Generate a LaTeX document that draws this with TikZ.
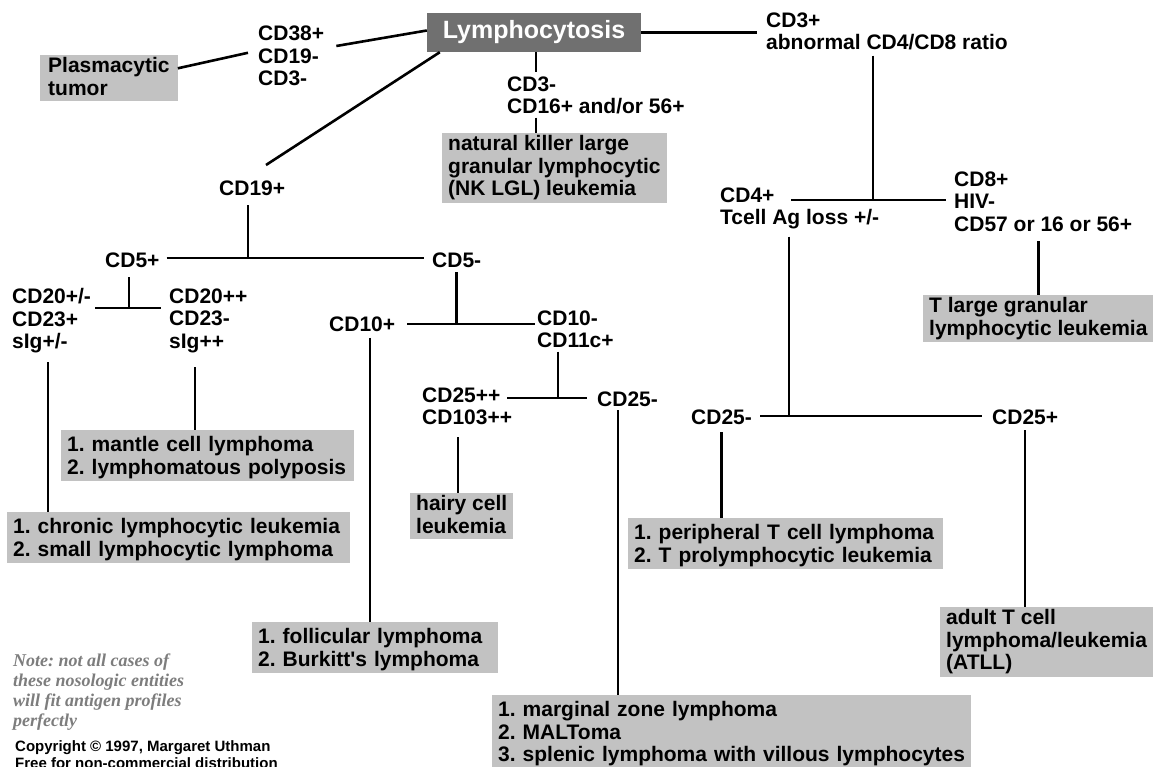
\documentclass[tikz,border=0pt]{standalone}
\usepackage{fontspec}
\setmainfont{Liberation Sans}[Ligatures=TeXOff]
\newfontfamily\notefont{Liberation Serif}
\definecolor{dxgray}{RGB}{194,194,194}
\definecolor{rootgray}{RGB}{112,112,112}
\definecolor{notegray}{RGB}{125,125,125}
\newcommand\topstrut{\rule{0pt}{19pt}}
\newcommand\botstrut{\rule[-3.5pt]{0pt}{3.5pt}}
\frenchspacing

\begin{document}
\begin{tikzpicture}[
  x=1pt,y=-1pt,
  lab/.style={anchor=north west,inner sep=0pt,align=left,font=\fontsize{21}{22.5}\selectfont\bfseries,
    execute at begin node=\topstrut,execute at end node=\botstrut},
  dx/.style={lab,fill=dxgray,inner xsep=6pt,inner ysep=2.5pt},
  root/.style={fill=rootgray,text=white,font=\fontsize{25}{28}\selectfont\bfseries,
    minimum width=214pt,minimum height=39pt,inner sep=0pt},
  ln/.style={line width=2.6pt}
]
\fill[white] (0,0) rectangle (1154,767);
\useasboundingbox (0,0) rectangle (1154,767);

% top level
\node[root] (lympho) at (534,32.5) {Lymphocytosis};
\node[lab] (cd38) at (258,26) {CD38+\\CD19-\\CD3-};
\node[dx,inner xsep=8pt] (plasma) at (40,55) {Plasmacytic\\tumor};
\node[lab] (cd3m) at (507,76.5) {CD3-\\CD16+ and/or 56+};
\node[dx] (nk) at (442,133) {natural killer large\\granular lymphocytic\\(NK LGL) leukemia};
\node[lab] (cd3p) at (766,12.5) {CD3+\\abnormal CD4/CD8 ratio};
\node[lab] (cd19p) at (219,176.5) {CD19+};

% T cell side
\node[lab] (cd4) at (720,187.5) {CD4+\\Tcell Ag loss +/-};
\node[lab] (cd8) at (954,171.5) {CD8+\\HIV-\\CD57 or 16 or 56+};
\node[dx] (tlgl) at (923,295) {T large granular\\lymphocytic leukemia};
\node[lab] (cd25mR) at (691,405.5) {CD25-};
\node[lab] (cd25pR) at (992,405.5) {CD25+};
\node[dx,text width=303pt] (ptcl) at (628,518) {1. peripheral T cell lymphoma\\2. T prolymphocytic leukemia};
\node[dx] (atll) at (940,607) {adult T cell\\lymphoma/leukemia\\(ATLL)};

% B cell side
\node[lab] (cd5p) at (105,248.5) {CD5+};
\node[lab] (cd5m) at (432,248.5) {CD5-};
\node[lab] (cd20a) at (12,288.5) {CD20+/-\\CD23+\\sIg+/-};
\node[lab] (cd20b) at (169,288.5) {CD20++\\CD23-\\sIg++};
\node[dx,text width=281pt] (mcl) at (61,430) {1. mantle cell lymphoma\\2. lymphomatous polyposis};
\node[dx,text width=331pt] (cll) at (7,512) {1. chronic lymphocytic leukemia\\2. small lymphocytic lymphoma};
\node[lab] (cd10p) at (329,312.5) {CD10+};
\node[lab] (cd10m) at (537,310.5) {CD10-\\CD11c+};
\node[dx,text width=234pt] (fl) at (252,622) {1. follicular lymphoma\\2. Burkitt's lymphoma};
\node[lab] (cd25pp) at (422,387.5) {CD25++\\CD103++};
\node[lab] (cd25mL) at (597,387.5) {CD25-};
\node[dx] (hcl) at (410,493) {hairy cell\\leukemia};
\node[dx,text width=467pt] (mzl) at (492,695) {1. marginal zone lymphoma\\2. MALToma\\3. splenic lymphoma with villous lymphocytes};

\node[anchor=north west,inner sep=0pt,align=left,text=notegray,
  font=\notefont\fontsize{18}{20}\selectfont\bfseries\itshape,execute at begin node=\strut]
  (note) at (13,654) {Note: not all cases of\\these nosologic entities\\will fit antigen profiles\\perfectly};
\node[anchor=north west,inner sep=0pt,align=left,font=\fontsize{15}{17}\selectfont\bfseries,
  execute at begin node=\strut]
  (copy) at (15,740) {Copyright \textcopyright{} 1997, Margaret Uthman\\Free for non-commercial distribution};

% forks
\coordinate (s3) at (536,72);
\coordinate (jT) at (873,200);
\coordinate (bT) at (791,200);
\coordinate (j4) at (789,416);
\coordinate (jB) at (248,258);
\coordinate (j5) at (129,308);
\coordinate (j5m) at (456,324);
\coordinate (j11) at (558,398);
\coordinate (b11) at (507,398);
\coordinate (s20a) at (48,362);
\coordinate (s20b) at (195,367);
\coordinate (s10) at (370,338);
\coordinate (s103) at (458,437);
\coordinate (s25) at (618,410);

% connectors
\draw[ln] ([yshift=2pt]lympho.west) -- ([xshift=12pt,yshift=-20pt]cd38.north east);
\draw[ln] ([yshift=10pt]plasma.east) -- ([xshift=-10pt,yshift=5pt]cd38.west);
\draw[ln] ([xshift=13pt]lympho.south west) -- ([xshift=47pt,yshift=11.5pt]cd19p.north west);
\draw[ln] (lympho.south -| s3) -- (s3);
\draw[ln] (cd3m.south -| s3) -- (nk.north -| s3);
\draw[ln,shorten >=9pt] (lympho.east) -- (lympho.east -| cd3p.west);
\draw[ln,shorten <=2pt] (cd3p.south -| jT) -- (jT);
\draw[ln,shorten >=8pt] (bT) -- (jT -| cd8.west);
\draw[ln,shorten <=6pt] (tlgl.north |- cd8.south) -- (tlgl.north);
\draw[ln,shorten <=7pt] (cd4.south -| j4) -- (j4);
\draw[ln,shorten <=8pt,shorten >=10pt] (j4 -| cd25mR.east) -- (j4 -| cd25pR.west);
\draw[ln,shorten <=4pt] (cd25mR.south) -- (cd25mR.south |- ptcl.north);
\draw[ln,shorten <=2pt] (cd25pR.south) -- (cd25pR.south |- atll.north);

\draw[ln,shorten <=6pt] (cd19p.south -| jB) -- (jB);
\draw[ln,shorten <=7pt,shorten >=8pt] (jB -| cd5p.east) -- (jB -| cd5m.west);
\draw[ln,shorten <=6pt] (cd5p.south -| j5) -- (j5);
\draw[ln,shorten <=4pt,shorten >=8pt] (j5 -| cd20a.east) -- (j5 -| cd20b.west);
\draw[ln] (s20a) -- (s20a |- cll.north);
\draw[ln] (s20b) -- (s20b |- mcl.north);
\draw[ln,shorten <=1pt] (cd5m.south) -- (cd5m.south |- j5m);
\draw[ln,shorten <=12pt,shorten >=2pt] (j5m -| cd10p.east) -- (j5m -| cd10m.west);
\draw[ln] (s10) -- (s10 |- fl.north);
\draw[ln] (cd10m.south -| j11) -- (j11);
\draw[ln,shorten >=10pt] (b11) -- (j11 -| cd25mL.west);
\draw[ln] (s103) -- (s103 |- hcl.north);
\draw[ln] (s25) -- (s25 |- mzl.north);
\end{tikzpicture}
\end{document}
